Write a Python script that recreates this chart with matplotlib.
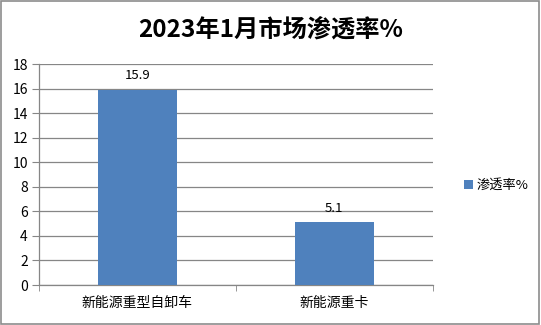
import matplotlib.pyplot as plt
from matplotlib.patches import Rectangle

plt.rcParams['font.family'] = ['Noto Sans CJK SC', 'DejaVu Sans']

categories = ['新能源重型自卸车', '新能源重卡']
values = [15.9, 5.1]
series_name = '渗透率%'
title = '2023年1月市场渗透率%'

bar_color = '#4F81BD'
line_color = '#868686'

fig = plt.figure(figsize=(5.41, 3.25), dpi=100)
ax = fig.add_axes([0.072, 0.123, 0.728, 0.68])

x = range(len(categories))
bars = ax.bar(x, values, width=0.4, color=bar_color, label=series_name, zorder=3)
for b, v in zip(bars, values):
    ax.text(b.get_x() + b.get_width() / 2, v + 0.6, f'{v}', ha='center', va='bottom',
            fontsize=9.5, color='#000000')

ax.set_xlim(-0.5, len(categories) - 0.5)
ax.set_ylim(0, 18)
ax.set_yticks(range(0, 19, 2))
ax.set_xticks(list(x))
ax.set_xticklabels(categories, fontsize=10)
ax.set_xticks([-0.5, 0.5, 1.5], minor=True)
ax.tick_params(axis='x', which='major', length=0, pad=8)
ax.tick_params(axis='x', which='minor', length=4, color=line_color)
ax.tick_params(axis='y', length=5, color=line_color, labelsize=10, pad=3)
ax.grid(axis='y', color=line_color, linewidth=0.9, zorder=0)

for s in ['top', 'right']:
    ax.spines[s].set_visible(False)
for s in ['left', 'bottom']:
    ax.spines[s].set_color(line_color)
    ax.spines[s].set_linewidth(0.9)

leg = fig.legend(loc='center left', bbox_to_anchor=(0.835, 0.43), frameon=False,
                 fontsize=9.5, handlelength=0.7, handleheight=0.7, handletextpad=0.3)

fig.text(0.5, 0.905, title, ha='center', va='center', fontsize=17.5, fontweight='bold')

fig.patches.append(Rectangle((0.002, 0.003), 0.995, 0.993, transform=fig.transFigure,
                             fill=False, edgecolor='#8c8c8c', linewidth=1.2))

fig.savefig('out.png', dpi=100, facecolor='white')
